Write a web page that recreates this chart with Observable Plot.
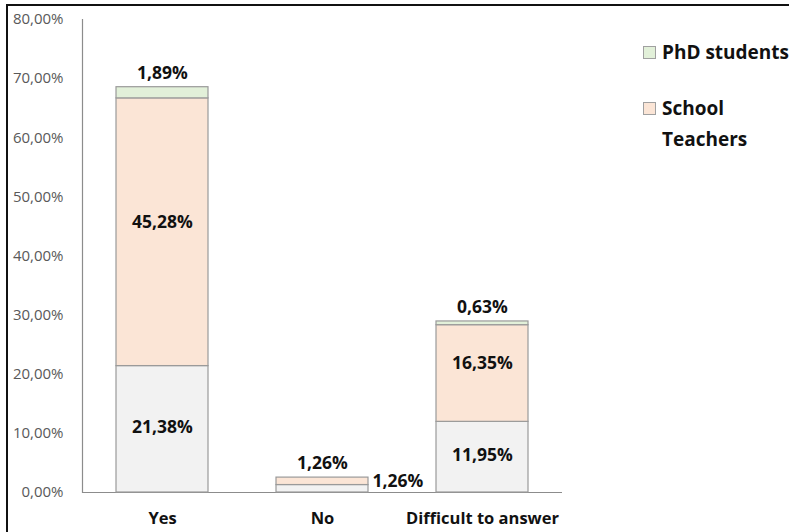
<!DOCTYPE html>
<html>
<head>
<meta charset="utf-8">
<script src="https://cdn.jsdelivr.net/npm/d3@7"></script>
<script src="https://cdn.jsdelivr.net/npm/@observablehq/plot@0.6"></script>
<style>
  html, body { margin: 0; padding: 0; background: #fff; overflow: hidden; }
  #wrap { position: relative; width: 789px; height: 532px; overflow: hidden; font-family: "Open Sans", sans-serif; }
  #frame { position: absolute; left: 6px; top: 4px; right: -4px; bottom: -4px; border-left: 2px solid #111; border-top: 2px solid #111; pointer-events: none; }
  #chart { position: absolute; left: 0; top: 0; }
  #legend { position: absolute; left: 643px; top: 0; width: 200px; font-weight: 700; font-size: 19px; color: #111; }
  .item { position: absolute; left: 0; display: flex; align-items: flex-start; white-space: nowrap; }
  .sw { width: 11px; height: 11px; border: 1px solid #a0a0a0; margin-right: 6px; flex: none; }
  .lbl { line-height: 31px; margin-top: -9px; }
</style>
</head>
<body>
<div id="wrap">
  <div id="chart"></div>
  <div id="legend"></div>
  <div id="frame"></div>
</div>
<script>
// ---- data ----
const answers = ["Yes", "No", "Difficult to answer"];
const groups = ["Other respondents", "School Teachers", "PhD students"];
const otherValues = [21.38, 1.26, 11.95];
const schoolValues = [45.28, 1.26, 16.35];
const phdValues = [1.89, 0, 0.63];
const yTicks = [0, 10, 20, 30, 40, 50, 60, 70, 80];
const legendGroups = ["PhD students", "School Teachers"];
const legendLines = [["PhD students"], ["School", "Teachers"]];

const colors = ["#f2f2f2", "#fbe5d6", "#e2f0d9"];
const seriesValues = [otherValues, schoolValues, phdValues];

// build stacked rows
const rows = [];
answers.forEach((a, i) => {
  let acc = 0;
  const total = d3.sum(seriesValues, s => s[i]);
  groups.forEach((g, j) => {
    const v = seriesValues[j][i];
    rows.push({answer: a, group: g, gi: j, value: v, y1: acc, y2: acc + v, mid: acc + v / 2, total});
    acc += v;
  });
});

const fmt = v => d3.format(".2f")(v).replace(".", ",") + "%";

// label placement rules
const small = r => r.total < 5;
const topSeries = r => r.gi === groups.length - 1;
const bottomMid = rows.filter(r => r.value > 0 && !small(r) && r.gi === 0);
const middleMid = rows.filter(r => r.value > 0 && !small(r) && r.gi === 1);
const aboveLabels = rows.filter(r => r.value > 0 && ((!small(r) && topSeries(r)) || (small(r) && r.gi === 0)));
const rightLabels = rows.filter(r => r.value > 0 && small(r) && r.gi === 1);

const textStyle = {fontFamily: "Open Sans", fontWeight: 700, fontSize: 17.5, fill: "#111"};

const chart = Plot.plot({
  width: 640,
  height: 532,
  marginTop: 19,
  marginBottom: 40,
  marginLeft: 82,
  marginRight: 78,
  style: {fontFamily: "Open Sans", background: "transparent"},
  x: {domain: answers, paddingInner: 0.425, paddingOuter: 0.2125, label: null},
  y: {domain: [0, 80], label: null},
  color: {domain: groups, range: colors},
  marks: [
    Plot.axisY({ticks: yTicks, tickSize: 0, tickPadding: 19, tickFormat: fmt, fontSize: 15, fill: "#595959", label: null}),
    Plot.axisX({tickSize: 0, tickPadding: 20, fontSize: 16.5, fontWeight: 700, fill: "#111", label: null}),
    Plot.ruleY([0], {stroke: "#8c8c8c", strokeWidth: 1.2}),
    Plot.frame({anchor: "left", stroke: "#8c8c8c", strokeWidth: 1.2}),
    Plot.barY(rows.filter(r => r.value > 0), {x: "answer", y1: "y1", y2: "y2", fill: "group", stroke: "#9a9a9a", strokeWidth: 1.2}),
    Plot.text(bottomMid, {x: "answer", y: "mid", text: d => fmt(d.value), dy: -2, ...textStyle}),
    Plot.text(middleMid, {x: "answer", y: "mid", text: d => fmt(d.value), dy: -10, ...textStyle}),
    Plot.text(aboveLabels, {x: "answer", y: "total", text: d => fmt(d.value), dy: -14, ...textStyle}),
    Plot.text(rightLabels, {x: "answer", y: "mid", text: d => fmt(d.value), textAnchor: "start", dx: 50, dy: 0, ...textStyle})
  ]
});
document.getElementById("chart").appendChild(chart);

// legend
const legend = document.getElementById("legend");
const legendTops = [46, 102];
legendGroups.forEach((g, k) => {
  const item = document.createElement("div");
  item.className = "item";
  item.style.top = legendTops[k] + "px";
  const sw = document.createElement("div");
  sw.className = "sw";
  sw.style.background = colors[groups.indexOf(g)];
  const lbl = document.createElement("div");
  lbl.className = "lbl";
  lbl.innerHTML = legendLines[k].join("<br>");
  item.appendChild(sw);
  item.appendChild(lbl);
  legend.appendChild(item);
});
</script>
</body>
</html>
